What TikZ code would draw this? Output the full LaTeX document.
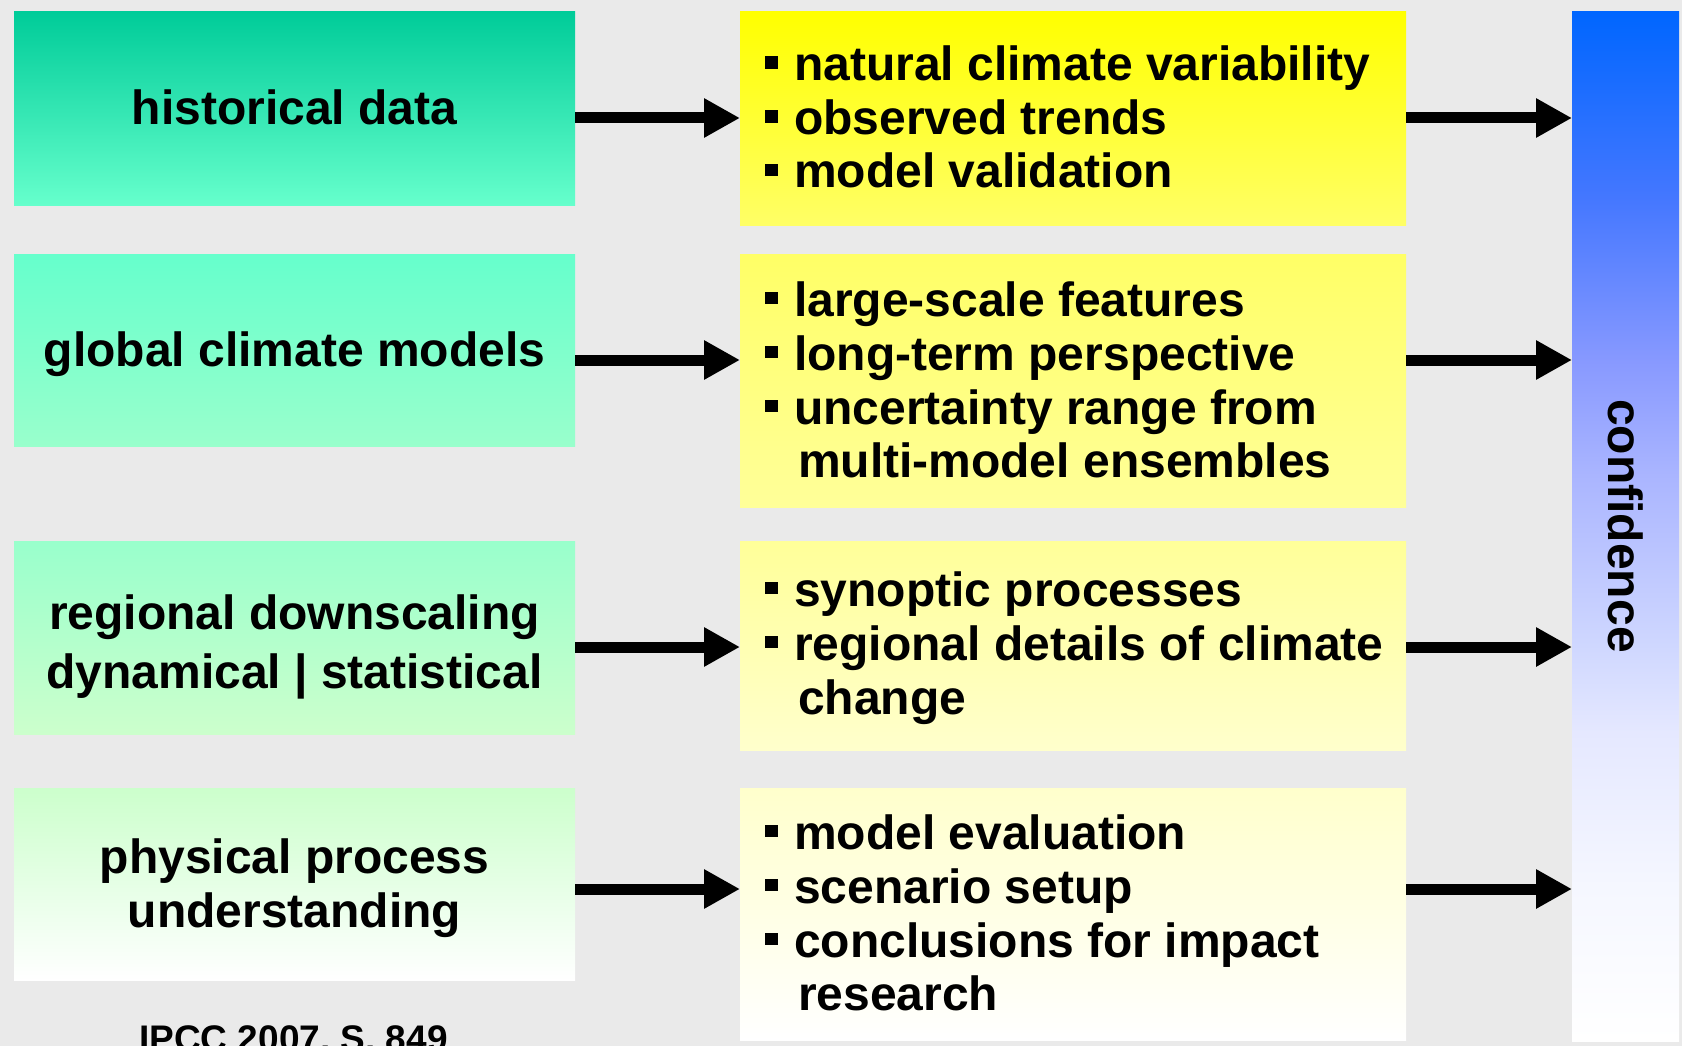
\documentclass[tikz,border=0pt]{standalone}
\usepackage{fontspec}
\setmainfont{Liberation Sans}
\usetikzlibrary{arrows.meta}
\definecolor{bgc}{HTML}{EAEAEA}
\definecolor{g0}{HTML}{00CC99}
\definecolor{g1}{HTML}{66FFCC}
\definecolor{g2}{HTML}{99FFCC}
\definecolor{g3}{HTML}{CCFFCC}
\definecolor{w0}{HTML}{FFFF00}
\definecolor{w1}{HTML}{FFFF66}
\definecolor{w2}{HTML}{FFFF99}
\definecolor{w3}{HTML}{FFFFCC}
\definecolor{cb0}{HTML}{0066FF}
\definecolor{cb1}{HTML}{4477FF}
\definecolor{cb2}{HTML}{8899FF}
\definecolor{cb3}{HTML}{AAB5FF}
\definecolor{cb4}{HTML}{D0D8FF}
\definecolor{cb5}{HTML}{E5E8FF}
\definecolor{cb6}{HTML}{F5F7FF}
\definecolor{cb7}{HTML}{FFFFFF}
\pgfdeclareverticalshading{confshade}{100bp}{%
  color(0bp)=(cb7); color(25bp)=(cb7); color(32.5bp)=(cb6); color(40bp)=(cb5);
  color(44bp)=(cb4); color(52.5bp)=(cb3); color(58bp)=(cb2); color(66bp)=(cb1);
  color(75bp)=(cb0); color(100bp)=(cb0)}
\newcommand\bulsq{\makebox[29pt][l]{\raisebox{12pt}{\rule{12.5pt}{12.5pt}}}}
\newcommand\contind{\hspace*{33pt}}
\begin{document}
\begin{tikzpicture}[x=1pt,y=-1pt,
  panel/.style={draw=none,inner sep=0pt,outer sep=0pt,anchor=north west,minimum width=#1},
  lbox/.style={panel=561pt},
  rbox/.style={panel=666pt},
  big/.style={font=\fontsize{48}{53.7}\selectfont\bfseries,inner sep=0pt,outer sep=0pt},
  ltxt/.style={big,anchor=base},
  rtxt/.style={big,anchor=base west},
  arr/.style={line width=11pt,-{Triangle[length=36pt,width=37pt]}}]
\fill[bgc] (0,0) rectangle (1682,1046);
\clip (0,0) rectangle (1682,1046);
% left column
\node[lbox,minimum height=193pt,top color=g0,bottom color=g1] (h1) at (14,12) {};
\node[lbox,minimum height=192pt,top color=g1,bottom color=g2] (h2) at (14,254) {};
\node[lbox,minimum height=193pt,top color=g2,bottom color=g3] (h3) at (14,541) {};
\node[lbox,minimum height=192pt,top color=g3,bottom color=white] (h4) at (14,788) {};
\node[ltxt] (h1t) at (294.5,125) {historical data};
\node[ltxt] (h2t) at (294.5,366) {global climate models};
\node[ltxt] (h3t) at (294.5,629) {regional downscaling};
\node[ltxt] (h3u) at (294.5,688) {dynamical | statistical};
\node[ltxt] (h4t) at (294.5,873) {physical process};
\node[ltxt] (h4u) at (294.5,927) {understanding};
\node[font=\fontsize{37}{40}\selectfont\bfseries,inner sep=0pt,anchor=base] (src) at (293.5,1051.5) {IPCC 2007, S. 849};
% middle column
\node[rbox,minimum height=213pt,top color=w0,bottom color=w1] (y1) at (740,12) {};
\node[rbox,minimum height=253pt,top color=w1,bottom color=w2] (y2) at (740,254) {};
\node[rbox,minimum height=209pt,top color=w2,bottom color=w3] (y3) at (740,541) {};
\node[rbox,minimum height=252pt,top color=w3,bottom color=white] (y4) at (740,788) {};
\node[rtxt] (y1a) at (765,81) {\bulsq natural climate variability};
\node[rtxt] (y1b) at (765,135) {\bulsq observed trends};
\node[rtxt] (y1c) at (765,188) {\bulsq model validation};
\node[rtxt] (y2a) at (765,316) {\bulsq large-scale features};
\node[rtxt] (y2b) at (765,370) {\bulsq long-term perspective};
\node[rtxt] (y2c) at (765,424) {\bulsq uncertainty range from};
\node[rtxt] (y2d) at (765,477) {\contind multi-model ensembles};
\node[rtxt] (y3a) at (765,606) {\bulsq synoptic processes};
\node[rtxt] (y3b) at (765,660) {\bulsq regional details of climate};
\node[rtxt] (y3c) at (765,714) {\contind change};
\node[rtxt] (y4a) at (765,849) {\bulsq model evaluation};
\node[rtxt] (y4b) at (765,903) {\bulsq scenario setup};
\node[rtxt] (y4c) at (765,957) {\bulsq conclusions for impact};
\node[rtxt] (y4d) at (765,1010) {\contind research};
% confidence bar
\node[panel=107pt,minimum height=1029pt,shading=confshade] (conf) at (1572,12) {};
\node[big,rotate=-90,anchor=base] (conft) at (1608,526) {confidence};
% arrows
\coordinate (r1) at (0,118);
\coordinate (r2) at (0,360);
\coordinate (r3) at (0,647);
\coordinate (r4) at (0,889);
\draw[arr] (h1.east |- r1) -- (y1.west |- r1);
\draw[arr] (h2.east |- r2) -- (y2.west |- r2);
\draw[arr] (h3.east |- r3) -- (y3.west |- r3);
\draw[arr] (h4.east |- r4) -- (y4.west |- r4);
\draw[arr] (y1.east |- r1) -- (conf.west |- r1);
\draw[arr] (y2.east |- r2) -- (conf.west |- r2);
\draw[arr] (y3.east |- r3) -- (conf.west |- r3);
\draw[arr] (y4.east |- r4) -- (conf.west |- r4);
\end{tikzpicture}
\end{document}
